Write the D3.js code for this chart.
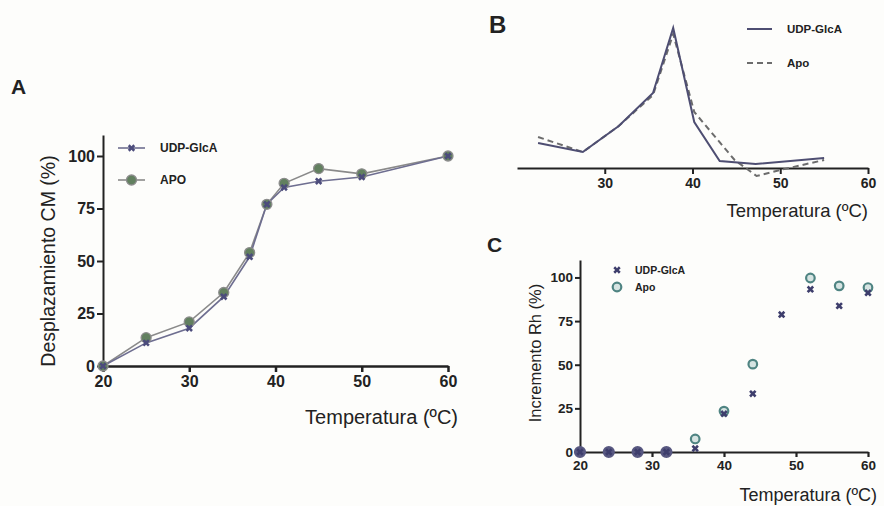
<!DOCTYPE html>
<html>
<head>
<meta charset="utf-8">
<script src="https://cdn.jsdelivr.net/npm/d3@7"></script>
<style>
  html, body { margin: 0; padding: 0; background: #fdfdfb; }
  svg { display: block; font-family: "Liberation Sans", Arial, sans-serif; }
  .tick text { font-weight: bold; fill: #222; }
</style>
</head>
<body>
<svg id="fig" width="884" height="506"></svg>
<script>
// ---- Panel A: desplazamiento CM frente a temperatura ----
const tempA = [20, 25, 30, 34, 37, 39, 41, 45, 50, 60];
const cmUDP = [0, 11, 18, 33, 52, 77, 85, 88, 90, 100];
const cmAPO = [0, 13.5, 21, 35, 54, 77, 87, 94, 91.5, 100];
const ticksA_y = [0, 25, 50, 75, 100];
const ticksX = [20, 30, 40, 50, 60];

// ---- Panel B: perfiles (u.a.) ----
const tempB_UDP = [22.4, 27.5, 31.6, 35.5, 37.8, 40.2, 43.1, 47.2, 55.0];
const sigB_UDP  = [25, 16, 42, 75, 140, 46, 7, 4, 10];
const tempB_APO = [22.4, 27.5, 31.6, 35.5, 37.8, 40.2, 44.8, 47.3, 50.0, 55.0];
const sigB_APO  = [31, 16, 42, 73, 134, 56, 8, -8, -2, 8];
const ticksB_x = [30, 40, 50, 60];

// ---- Panel C: incremento Rh ----
const tempC = [20, 24, 28, 32, 36, 40, 44, 48, 52, 56, 60];
const rhUDP = [0, 0, 0, 0, 2, 22, 33.5, 79, 93.5, 84, 91.5];
const rhAPO = [0, 0, 0, 0, 7.5, 23.5, 50.5, null, 100, 95.5, 94.5];
const ticksC_y = [0, 25, 50, 75, 100];

const svg = d3.select("#fig");
const ink = "#222";

function styleAxis(g, w) {
  g.select(".domain").attr("stroke", ink).attr("stroke-width", w);
  g.selectAll(".tick line").attr("stroke", ink).attr("stroke-width", w);
}

/* ================= Panel A ================= */
const xA = d3.scaleLinear().domain([20, 60]).range([103, 448]);
const yA = d3.scaleLinear().domain([0, 100]).range([366, 156]);

const gAy = svg.append("g").attr("transform", `translate(${xA(20)},0)`)
  .call(d3.axisLeft(yA.copy().domain([0, 110]).range([366, 135]))
    .tickValues(ticksA_y).tickSize(6).tickPadding(2).tickSizeOuter(0))
  .attr("font-size", 16);
styleAxis(gAy, 2);

const gAx = svg.append("g").attr("transform", `translate(0,${yA(0)})`)
  .call(d3.axisBottom(xA).tickValues(ticksX).tickSize(6).tickPadding(4).tickSizeOuter(0))
  .attr("font-size", 16);
styleAxis(gAx, 2.5);

const lineA = d3.line().x((d, i) => xA(tempA[i])).y(d => yA(d));
svg.append("path").datum(cmAPO).attr("d", lineA)
  .attr("fill", "none").attr("stroke", "#8a8a8a").attr("stroke-width", 1.6);
svg.append("path").datum(cmUDP).attr("d", lineA)
  .attr("fill", "none").attr("stroke", "#6e6e90").attr("stroke-width", 1.6);

svg.append("g").selectAll("circle").data(cmAPO).join("circle")
  .attr("cx", (d, i) => xA(tempA[i])).attr("cy", d => yA(d)).attr("r", 5)
  .attr("fill", "#62805f").attr("stroke", "#8c8c8c").attr("stroke-width", 1.3);
const xSym = d3.symbol().type(d3.symbolCross).size(34);
svg.append("g").selectAll("path").data(cmUDP).join("path")
  .attr("d", xSym)
  .attr("transform", (d, i) => `translate(${xA(tempA[i])},${yA(d)}) rotate(45)`)
  .attr("fill", "#4c4c7c");

// legend A
const legA = svg.append("g");
legA.append("line").attr("x1", 118).attr("x2", 145).attr("y1", 148).attr("y2", 148)
  .attr("stroke", "#6e6e90").attr("stroke-width", 1.6);
legA.append("path").attr("d", xSym).attr("transform", "translate(131.5,148) rotate(45)").attr("fill", "#4c4c7c");
legA.append("text").attr("x", 160).attr("y", 152).attr("font-size", 12).attr("font-weight", "bold").attr("fill", ink).text("UDP-GlcA");
legA.append("line").attr("x1", 118).attr("x2", 145).attr("y1", 180).attr("y2", 180)
  .attr("stroke", "#8a8a8a").attr("stroke-width", 1.6);
legA.append("circle").attr("cx", 131.5).attr("cy", 180).attr("r", 5)
  .attr("fill", "#62805f").attr("stroke", "#8c8c8c").attr("stroke-width", 1.3);
legA.append("text").attr("x", 160).attr("y", 184).attr("font-size", 12).attr("font-weight", "bold").attr("fill", ink).text("APO");

svg.append("text").attr("transform", "translate(55,261) rotate(-90)")
  .attr("text-anchor", "middle").attr("font-size", 19.5).attr("fill", ink)
  .text("Desplazamiento CM (%)");
svg.append("text").attr("x", 458).attr("y", 424).attr("text-anchor", "end")
  .attr("font-size", 20).attr("fill", ink).text("Temperatura (ºC)");
svg.append("text").attr("x", 11).attr("y", 94).attr("font-size", 21)
  .attr("font-weight", "bold").attr("fill", ink).text("A");

/* ================= Panel B ================= */
const xB = d3.scaleLinear().domain([20, 60]).range([517, 868]);
const yB = d3.scaleLinear().domain([0, 140]).range([168, 28]);

const gBx = svg.append("g").attr("transform", `translate(0,${yB(0)})`)
  .call(d3.axisBottom(xB).tickValues(ticksB_x).tickSize(6).tickPadding(4).tickSizeOuter(0))
  .attr("font-size", 14);
styleAxis(gBx, 2);

const lineBU = d3.line().x((d, i) => xB(tempB_UDP[i])).y(d => yB(d));
const lineBA = d3.line().x((d, i) => xB(tempB_APO[i])).y(d => yB(d));
svg.append("path").datum(sigB_APO).attr("d", lineBA)
  .attr("fill", "none").attr("stroke", "#6c6c6c").attr("stroke-width", 2)
  .attr("stroke-dasharray", "6,4");
svg.append("path").datum(sigB_UDP).attr("d", lineBU)
  .attr("fill", "none").attr("stroke", "#4e4e72").attr("stroke-width", 2);

const legB = svg.append("g");
legB.append("line").attr("x1", 747).attr("x2", 772).attr("y1", 29).attr("y2", 29)
  .attr("stroke", "#4e4e72").attr("stroke-width", 2);
legB.append("text").attr("x", 787).attr("y", 33).attr("font-size", 11.5).attr("font-weight", "bold").attr("fill", ink).text("UDP-GlcA");
legB.append("line").attr("x1", 747).attr("x2", 772).attr("y1", 63).attr("y2", 63)
  .attr("stroke", "#6c6c6c").attr("stroke-width", 2).attr("stroke-dasharray", "6,4");
legB.append("text").attr("x", 787).attr("y", 67).attr("font-size", 11.5).attr("font-weight", "bold").attr("fill", ink).text("Apo");

svg.append("text").attr("x", 868).attr("y", 217).attr("text-anchor", "end")
  .attr("font-size", 18.5).attr("fill", ink).text("Temperatura (ºC)");
svg.append("text").attr("x", 489).attr("y", 33).attr("font-size", 24)
  .attr("font-weight", "bold").attr("fill", ink).text("B");

/* ================= Panel C ================= */
const xC = d3.scaleLinear().domain([20, 60]).range([580, 868]);
const yC = d3.scaleLinear().domain([0, 100]).range([452, 278]);

const gCy = svg.append("g").attr("transform", `translate(${xC(20)},0)`)
  .call(d3.axisLeft(yC.copy().domain([0, 110]).range([452, 260]))
    .tickValues(ticksC_y).tickSize(5).tickPadding(2).tickSizeOuter(0))
  .attr("font-size", 13.5);
styleAxis(gCy, 2);

const gCx = svg.append("g").attr("transform", `translate(0,${yC(0)})`)
  .call(d3.axisBottom(xC).tickValues(ticksX).tickSize(5).tickPadding(3).tickSizeOuter(0))
  .attr("font-size", 13.5);
styleAxis(gCx, 2.2);

const apoPts = tempC.map((t, i) => ({ t, v: rhAPO[i] })).filter(d => d.v !== null);
svg.append("g").selectAll("circle").data(apoPts).join("circle")
  .attr("cx", d => xC(d.t)).attr("cy", d => yC(d.v))
  .attr("r", d => d.v === 0 ? 5 : 4.3)
  .attr("fill", d => d.v === 0 ? "#585880" : "#d6e4e2")
  .attr("stroke", d => d.v === 0 ? "#585880" : "#4f8482")
  .attr("stroke-width", 2.2);
const xSymC = d3.symbol().type(d3.symbolCross).size(34);
svg.append("g").selectAll("path").data(rhUDP).join("path")
  .attr("d", xSymC)
  .attr("transform", (d, i) => `translate(${xC(tempC[i])},${yC(d)}) rotate(45)`)
  .attr("fill", "#3e3e6c");

const legC = svg.append("g");
legC.append("path").attr("d", xSymC).attr("transform", "translate(617,270) rotate(45)").attr("fill", "#3e3e6c");
legC.append("text").attr("x", 635).attr("y", 274).attr("font-size", 10.5).attr("font-weight", "bold").attr("fill", ink).text("UDP-GlcA");
legC.append("circle").attr("cx", 617).attr("cy", 287).attr("r", 4.3)
  .attr("fill", "#d6e4e2").attr("stroke", "#4f8482").attr("stroke-width", 2.2);
legC.append("text").attr("x", 635).attr("y", 291).attr("font-size", 10.5).attr("font-weight", "bold").attr("fill", ink).text("Apo");

svg.append("text").attr("transform", "translate(541,353) rotate(-90)")
  .attr("text-anchor", "middle").attr("font-size", 16.5).attr("fill", ink)
  .text("Incremento Rh (%)");
svg.append("text").attr("x", 877).attr("y", 501).attr("text-anchor", "end")
  .attr("font-size", 18).attr("fill", ink).text("Temperatura (ºC)");
svg.append("text").attr("x", 487).attr("y", 252).attr("font-size", 21)
  .attr("font-weight", "bold").attr("fill", ink).text("C");
</script>
</body>
</html>
